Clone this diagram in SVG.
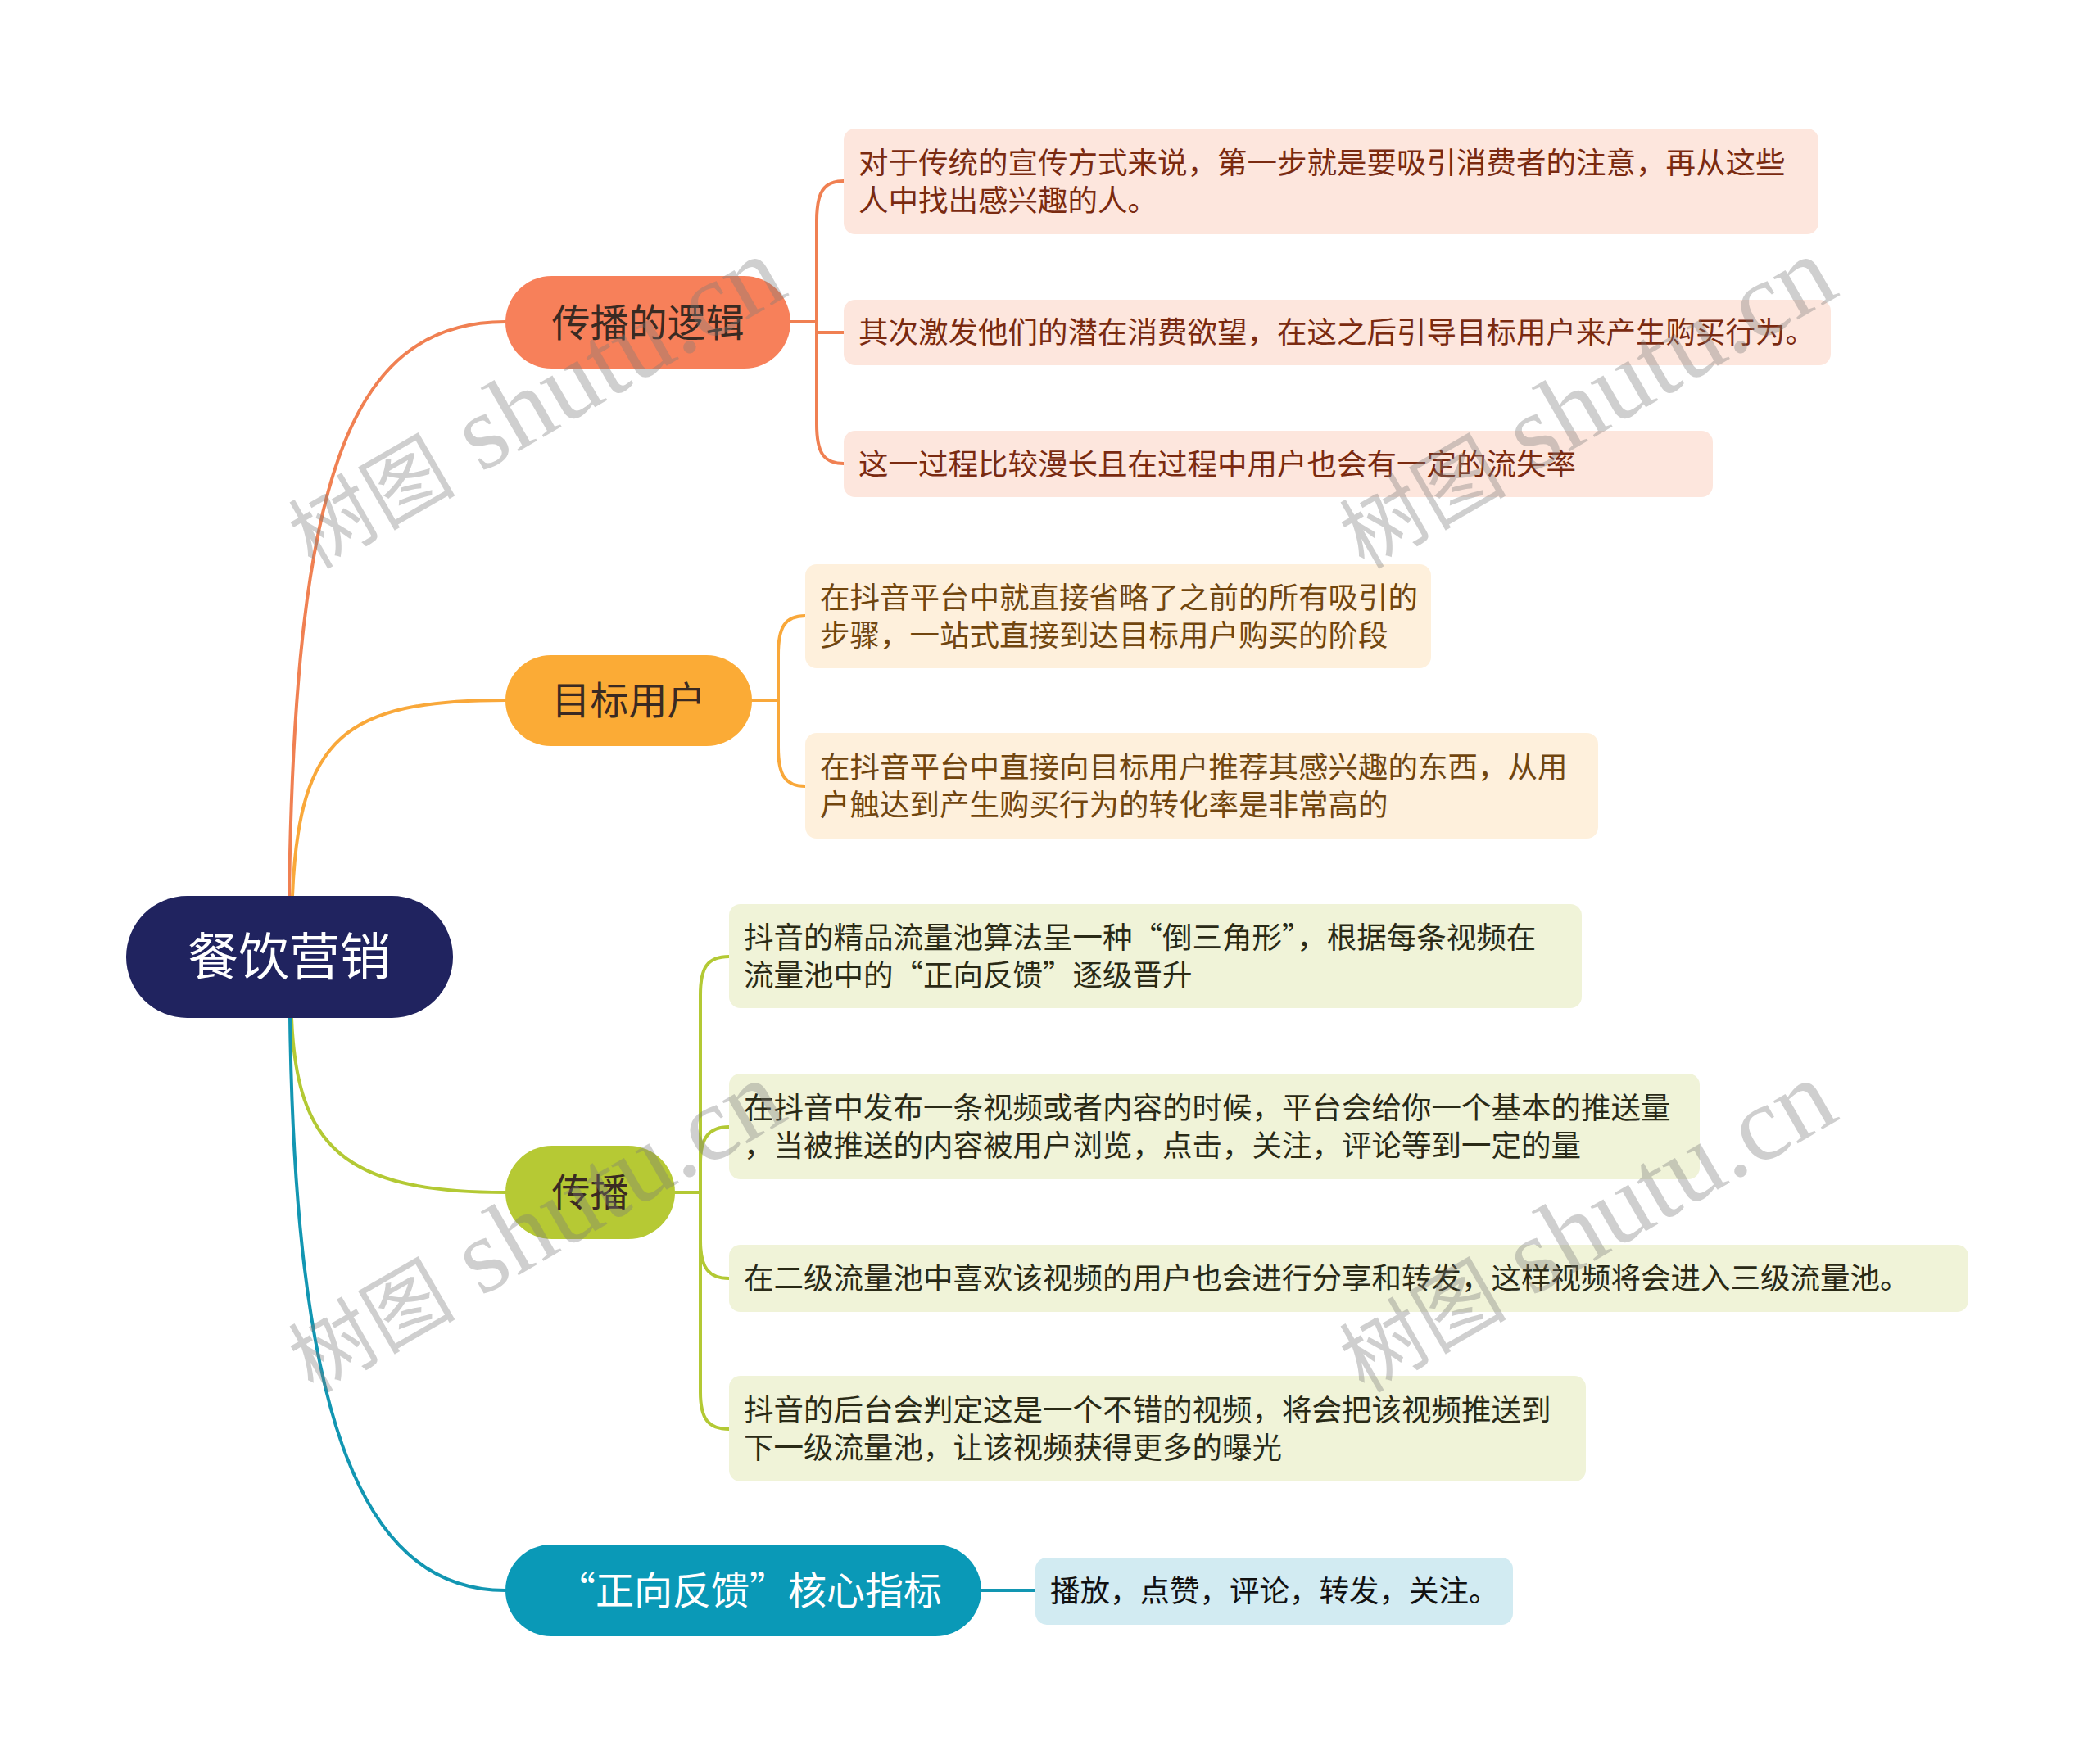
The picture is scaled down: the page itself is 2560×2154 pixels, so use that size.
<svg xmlns="http://www.w3.org/2000/svg" width="2560" height="2154" viewBox="0 0 2560 2154" lang="zh-CN" xml:lang="zh-CN">
<style>
text{font-family:"Noto Sans CJK SC","Noto Sans",sans-serif;}
.root{fill:#20235f;}
.rt{fill:#ffffff;font-size:62px;text-anchor:middle;}
.bt{fill:#3a2a22;font-size:47px;text-anchor:middle;}
.bw{fill:#ffffff;font-size:47px;text-anchor:middle;}
.lt{font-size:36.5px;}
.c{fill:none;stroke-width:4;stroke-linecap:round;}
.co{stroke:#f08052;} .cy{stroke:#f9a83a;} .cg{stroke:#b3c934;} .cb{stroke:#1296b2;}
.wm{fill:#7a7a7a;fill-opacity:0.36;}
.wl{font-family:"Liberation Serif",serif;font-size:130px;}
.wc{font-size:102px;}
</style>
<rect width="2560" height="2154" fill="#ffffff"/>

<g id="connectors">
  <path class="c co" d="M353,1094 C360,600 420,393 617,393" stroke-width="5"/>
  <path class="c cy" d="M357,1094 C365,900 420,855 617,855" stroke-width="5"/>
  <path class="c cg" d="M356,1243 C362,1400 420,1456 617,1456" stroke-width="5"/>
  <path class="c cb" d="M354,1243 C360,1700 430,1942 617,1942" stroke-width="5"/>

  <path class="c co" d="M965,393 H997"/>
  <path class="c co" d="M997,393 V270 C997,235 1005,221 1030,221"/>
  <path class="c co" d="M997,393 V406 H1030"/>
  <path class="c co" d="M997,393 V518 C997,552 1005,566 1030,566"/>

  <path class="c cy" d="M918,855 H950"/>
  <path class="c cy" d="M950,855 V800 C950,766 958,752 983,752"/>
  <path class="c cy" d="M950,855 V912 C950,946 958,960 983,960"/>

  <path class="c cg" d="M824,1456 H855"/>
  <path class="c cg" d="M855,1456 V1215 C855,1182 863,1168 890,1168"/>
  <path class="c cg" d="M855,1456 V1420 C855,1390 865,1376 890,1376"/>
  <path class="c cg" d="M855,1456 V1515 C855,1548 865,1561 890,1561"/>
  <path class="c cg" d="M855,1456 V1700 C855,1733 865,1745 890,1745"/>

  <path class="c cb" d="M1198,1942 H1264"/>
</g>

<g id="root">
  <rect class="root" x="154" y="1094" width="399" height="149" rx="74.5"/>
  <text class="rt" x="353" y="1191">餐饮营销</text>
</g>

<g id="branch-1">
  <rect x="617" y="337" width="348" height="113" rx="56.5" fill="#f7805a"/>
  <text class="bt" x="791" y="411">传播的逻辑</text>
</g>
<g id="leaf-1-1">
  <rect x="1030" y="157" width="1190" height="129" rx="14" fill="#fde6dd"/>
  <text class="lt" fill="#7a2a10" x="1048" y="211.5">对于传统的宣传方式来说，第一步就是要吸引消费者的注意，再从这些</text>
  <text class="lt" fill="#7a2a10" x="1048" y="257.5">人中找出感兴趣的人。</text>
</g>
<g id="leaf-1-2">
  <rect x="1030" y="366" width="1205" height="80" rx="14" fill="#fde6dd"/>
  <text class="lt" fill="#7a2a10" x="1048" y="419">其次激发他们的潜在消费欲望，在这之后引导目标用户来产生购买行为。</text>
</g>
<g id="leaf-1-3">
  <rect x="1030" y="526" width="1061" height="81" rx="14" fill="#fde6dd"/>
  <text class="lt" fill="#7a2a10" x="1048" y="580">这一过程比较漫长且在过程中用户也会有一定的流失率</text>
</g>

<g id="branch-2">
  <rect x="617" y="800" width="301" height="111" rx="55.5" fill="#fbab36"/>
  <text class="bt" x="767.5" y="872">目标用户</text>
</g>
<g id="leaf-2-1">
  <rect x="983" y="689" width="764" height="127" rx="14" fill="#fef0dc"/>
  <text class="lt" fill="#71460f" x="1001" y="743">在抖音平台中就直接省略了之前的所有吸引的</text>
  <text class="lt" fill="#71460f" x="1001" y="789">步骤，一站式直接到达目标用户购买的阶段</text>
</g>
<g id="leaf-2-2">
  <rect x="983" y="895" width="968" height="129" rx="14" fill="#fef0dc"/>
  <text class="lt" fill="#71460f" x="1001" y="950">在抖音平台中直接向目标用户推荐其感兴趣的东西，从用</text>
  <text class="lt" fill="#71460f" x="1001" y="996">户触达到产生购买行为的转化率是非常高的</text>
</g>

<g id="branch-3">
  <rect x="617" y="1399" width="207" height="114" rx="57" fill="#b6c934"/>
  <text class="bt" x="720.5" y="1473">传播</text>
</g>
<g id="leaf-3-1">
  <rect x="890" y="1104" width="1041" height="127" rx="14" fill="#f0f3d8"/>
  <text class="lt" fill="#2a2a16" x="908" y="1158">抖音的精品流量池算法呈一种“倒三角形”，根据每条视频在</text>
  <text class="lt" fill="#2a2a16" x="908" y="1204">流量池中的“正向反馈”逐级晋升</text>
</g>
<g id="leaf-3-2">
  <rect x="890" y="1311" width="1185" height="129" rx="14" fill="#f0f3d8"/>
  <text class="lt" fill="#2a2a16" x="908" y="1365.5">在抖音中发布一条视频或者内容的时候，平台会给你一个基本的推送量</text>
  <text class="lt" fill="#2a2a16" x="908" y="1411.5">，当被推送的内容被用户浏览，点击，关注，评论等到一定的量</text>
</g>
<g id="leaf-3-3">
  <rect x="890" y="1520" width="1513" height="82" rx="14" fill="#f0f3d8"/>
  <text class="lt" fill="#2a2a16" x="908" y="1574">在二级流量池中喜欢该视频的用户也会进行分享和转发，这样视频将会进入三级流量池。</text>
</g>
<g id="leaf-3-4">
  <rect x="890" y="1680" width="1046" height="129" rx="14" fill="#f0f3d8"/>
  <text class="lt" fill="#2a2a16" x="908" y="1735">抖音的后台会判定这是一个不错的视频，将会把该视频推送到</text>
  <text class="lt" fill="#2a2a16" x="908" y="1781">下一级流量池，让该视频获得更多的曝光</text>
</g>

<g id="branch-4">
  <rect x="617" y="1886" width="581" height="112" rx="56" fill="#0a99b7"/>
  <text class="bw" x="915" y="1959">“正向反馈”核心指标</text>
</g>
<g id="leaf-4-1">
  <rect x="1264" y="1902" width="583" height="82" rx="14" fill="#d2ebf2"/>
  <text class="lt" fill="#111111" x="1282" y="1956">播放，点赞，评论，转发，关注。</text>
</g>

<g id="watermarks">
  <text class="wm" transform="translate(382,696) rotate(-30)"><tspan class="wc">树图</tspan><tspan class="wl"> shutu.cn</tspan></text>
  <text class="wm" transform="translate(1665,696) rotate(-30)"><tspan class="wc">树图</tspan><tspan class="wl"> shutu.cn</tspan></text>
  <text class="wm" transform="translate(382,1702) rotate(-30)"><tspan class="wc">树图</tspan><tspan class="wl"> shutu.cn</tspan></text>
  <text class="wm" transform="translate(1665,1702) rotate(-30)"><tspan class="wc">树图</tspan><tspan class="wl"> shutu.cn</tspan></text>
</g>
</svg>
